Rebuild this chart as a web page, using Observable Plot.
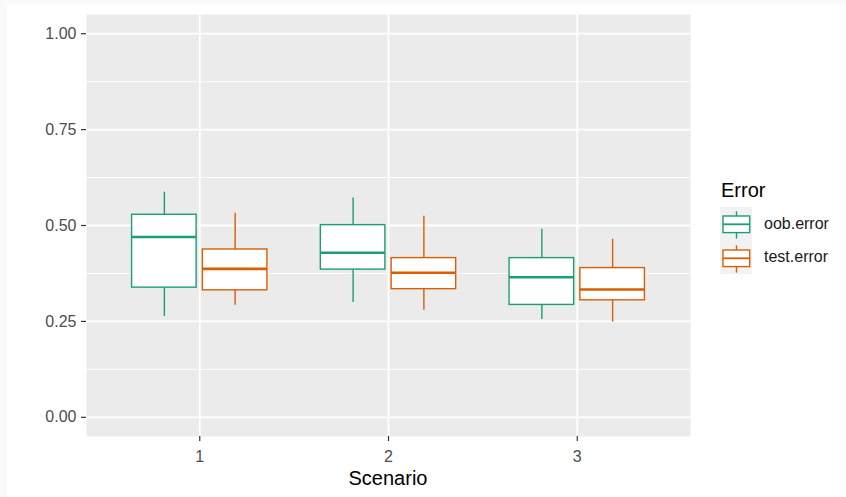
<!DOCTYPE html>
<html>
<head>
<meta charset="utf-8">
<script src="https://cdn.jsdelivr.net/npm/d3@7"></script>
<script src="https://cdn.jsdelivr.net/npm/@observablehq/plot@0.6"></script>
<style>
  html, body { margin: 0; padding: 0; background: #fafafa; width: 846px; height: 497px; overflow: hidden; font-family: Arial, "Liberation Sans", sans-serif; }
  #paper { position: absolute; left: 7px; top: 4px; right: 0; bottom: 0; background: #ffffff; }
  #chart { position: absolute; left: 0; top: 0; }
  #xlabel { position: absolute; left: 288px; width: 200px; top: 468px; line-height: 20px; text-align: center; font-size: 20px; color: #000000; }
  #legend { position: absolute; left: 720px; top: 180px; color: #000000; }
  #legend .title { font-size: 20px; line-height: 20px; margin-bottom: 7px; margin-left: 1px; }
  #legend .item { display: flex; align-items: center; height: 33.5px; }
  #legend .key { width: 32px; height: 33.5px; background: #f2f2f2; }
  #legend .lab { font-size: 16px; margin-left: 12px; color: #1a1a1a; }
</style>
</head>
<body>
<div id="paper"></div>
<div id="chart"></div>
<div id="xlabel">Scenario</div>
<div id="legend"></div>
<script>
// Data
const scenarios = [1, 2, 3];
const series = ["oob.error", "test.error"];
const colors = ["#1b9e77", "#d95f02"];
// [whisker low, Q1, median, Q3, whisker high] per scenario
const oobStats = [
  [0.263, 0.338, 0.470, 0.528, 0.587],
  [0.299, 0.385, 0.429, 0.501, 0.572],
  [0.255, 0.293, 0.365, 0.415, 0.490]
];
const testStats = [
  [0.292, 0.331, 0.387, 0.4375, 0.532],
  [0.279, 0.334, 0.377, 0.415, 0.524],
  [0.248, 0.305, 0.333, 0.389, 0.464]
];
const yTicks = [0, 0.25, 0.5, 0.75, 1];
const yMinor = [0.125, 0.375, 0.625, 0.875];

const statsBySeries = [oobStats, testStats];
const rows = [];
series.forEach((s, si) => {
  scenarios.forEach((sc, i) => {
    const [lo, q1, med, q3, hi] = statsBySeries[si][i];
    rows.push({scenario: sc, series: s, si, lo, q1, med, q3, hi});
  });
});

const dodge = 0.1875, half = 0.171;
const cx = d => d.scenario + (d.si === 0 ? -dodge : dodge);

const plot = Plot.plot({
  width: 700,
  height: 497,
  marginLeft: 86,
  marginRight: 10,
  marginTop: 14,
  marginBottom: 61,
  style: {background: "transparent", fontFamily: "Arial, 'Liberation Sans', sans-serif"},
  x: {domain: [0.4, 3.6]},
  y: {domain: [-0.05, 1.05]},
  color: {domain: series, range: colors},
  marks: [
    Plot.frame({fill: "#ebebeb", stroke: null}),
    Plot.ruleY(yMinor, {stroke: "#ffffff", strokeWidth: 0.9}),
    Plot.ruleY(yTicks, {stroke: "#ffffff", strokeWidth: 1.8}),
    Plot.ruleX(scenarios, {stroke: "#ffffff", strokeWidth: 1.8}),
    Plot.ruleX(rows, {x: cx, y1: "lo", y2: "q1", stroke: "series", strokeWidth: 1.4}),
    Plot.ruleX(rows, {x: cx, y1: "q3", y2: "hi", stroke: "series", strokeWidth: 1.4}),
    Plot.rect(rows, {x1: d => cx(d) - half, x2: d => cx(d) + half, y1: "q1", y2: "q3", fill: "#ffffff", stroke: "series", strokeWidth: 1.4}),
    Plot.ruleY(rows, {x1: d => cx(d) - half, x2: d => cx(d) + half, y: "med", stroke: "series", strokeWidth: 2.6}),
    Plot.axisY({ticks: yTicks, tickFormat: d3.format(".2f"), tickSize: 5, tickPadding: 5, fontSize: 16, label: null, color: "#4d4d4d", stroke: "#333333", strokeWidth: 1.2}),
    Plot.axisX({ticks: scenarios, tickFormat: d3.format("d"), tickSize: 5, tickPadding: 9, fontSize: 16, label: null, color: "#4d4d4d", stroke: "#333333", strokeWidth: 1.2})
  ]
});
plot.querySelectorAll('[aria-label="y-axis tick label"], [aria-label="x-axis tick label"]').forEach(g => { g.setAttribute("fill", "#4d4d4d"); g.setAttribute("font-size", "16"); });
document.getElementById("chart").appendChild(plot);

// Legend
const leg = document.getElementById("legend");
const title = document.createElement("div");
title.className = "title";
title.textContent = "Error";
leg.appendChild(title);
series.forEach((s, i) => {
  const item = document.createElement("div");
  item.className = "item";
  const c = colors[i];
  item.innerHTML = `<svg class="key" width="32" height="33.5" style="background:#f2f2f2;display:block">
      <line x1="16.5" x2="16.5" y1="4.3" y2="31.6" stroke="${c}" stroke-width="1.4"/>
      <rect x="3" y="9" width="26.7" height="16.6" fill="#ffffff" stroke="${c}" stroke-width="1.4"/>
      <line x1="3" x2="29.7" y1="17.3" y2="17.3" stroke="${c}" stroke-width="1.8"/>
    </svg><span class="lab">${s}</span>`;
  leg.appendChild(item);
});
</script>
</body>
</html>
